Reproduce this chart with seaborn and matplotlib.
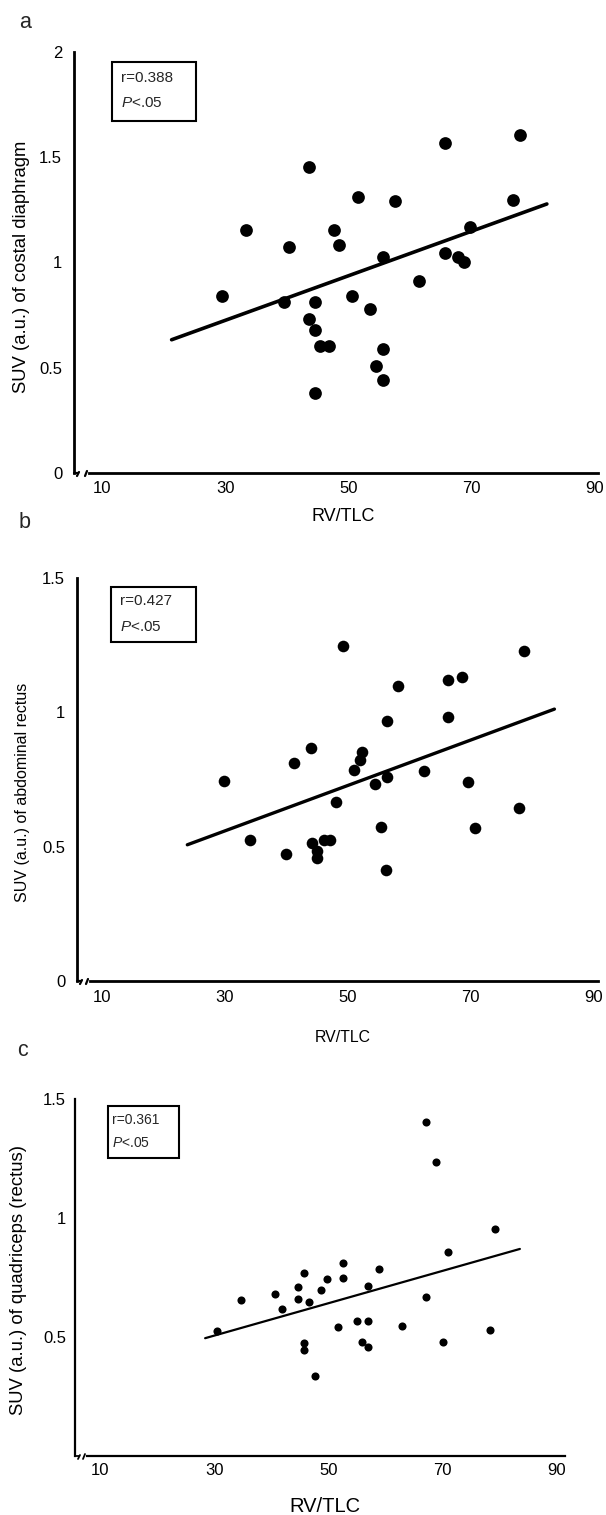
import numpy as np
import pandas as pd
import matplotlib
matplotlib.use("Agg")
import matplotlib.pyplot as plt
import matplotlib.transforms as mtransforms
from matplotlib.patches import Rectangle
from matplotlib.lines import Line2D
import seaborn as sns

# ---------------- data ----------------
a_x = [29.5, 33.4, 40.4, 39.6, 43.6, 43.6, 44.5, 44.5, 45.4, 46.8, 44.5, 47.6, 48.4, 50.6, 51.6,
       53.5, 54.5, 55.6, 55.6, 55.6, 57.5, 61.5, 65.6, 65.6, 67.7, 68.8, 69.7, 76.7, 77.8]
a_y = [0.843, 1.154, 1.073, 0.811, 1.456, 0.731, 0.811, 0.680, 0.601, 0.601, 0.378, 1.154, 1.083, 0.843, 1.313,
       0.781, 0.510, 1.025, 0.590, 0.440, 1.293, 0.911, 1.568, 1.043, 1.025, 1.002, 1.167, 1.299, 1.606]
a_fit_x = [21.3, 82.2]
a_fit_y = [0.633, 1.278]

b_x = [29.8, 34.1, 39.9, 41.2, 44.1, 44.2, 45.1, 45.1, 46.1, 47.2, 48.1, 49.2, 51.1, 52.1, 52.3,
       54.4, 55.4, 56.3, 56.4, 56.5, 58.2, 62.5, 66.4, 66.4, 68.6, 69.7, 70.8, 77.9, 78.7]
b_y = [0.743, 0.526, 0.473, 0.811, 0.866, 0.514, 0.485, 0.458, 0.524, 0.524, 0.666, 1.248, 0.786, 0.823, 0.854,
       0.734, 0.575, 0.415, 0.968, 0.761, 1.099, 0.783, 1.120, 0.981, 1.132, 0.739, 0.569, 0.644, 1.230]
b_fit_x = [23.9, 83.7]
b_fit_y = [0.507, 1.012]

c_x = [30.5, 34.7, 40.7, 41.8, 44.6, 44.6, 45.7, 45.7, 45.7, 46.6, 47.6, 48.7, 49.7, 51.7, 52.6,
       52.6, 54.9, 55.9, 56.9, 57.0, 57.0, 58.9, 62.9, 67.0, 67.0, 68.9, 70.0, 71.0, 78.2, 79.2]
c_y = [0.527, 0.655, 0.681, 0.619, 0.708, 0.658, 0.767, 0.476, 0.445, 0.649, 0.338, 0.696, 0.742, 0.540, 0.813,
       0.750, 0.568, 0.478, 0.714, 0.568, 0.459, 0.784, 0.548, 1.402, 0.667, 1.234, 0.478, 0.859, 0.531, 0.954]
c_fit_x = [28.4, 83.5]
c_fit_y = [0.495, 0.870]

x_ticks = [10, 30, 50, 70, 90]
x_ticklabels = ["10", "30", "50", "70", "90"]
a_yticks = [0, 0.5, 1, 1.5, 2]
a_yticklabels = ["0", "0.5", "1", "1.5", "2"]
b_yticks = [0, 0.5, 1, 1.5]
b_yticklabels = ["0", "0.5", "1", "1.5"]
c_yticks = [0.5, 1, 1.5]
c_yticklabels = ["0.5", "1", "1.5"]

ylabels = ["SUV (a.u.) of costal diaphragm", "SUV (a.u.) of abdominal rectus", "SUV (a.u.) of quadriceps (rectus)"]
xlabel = "RV/TLC"
stats_r = ["r=0.388", "r=0.427", "r=0.361"]
stats_p = "$\\it{P}$<.05"
panel_letters = ["a", "b", "c"]

# ---------------- style ----------------
sns.set_theme(style="white")
plt.rcParams["font.family"] = ["Liberation Sans", "DejaVu Sans"]
plt.rcParams["mathtext.fontset"] = "custom"
plt.rcParams["mathtext.it"] = "Liberation Sans:italic"
plt.rcParams["mathtext.rm"] = "Liberation Sans"

W, H = 606, 1515
fig = plt.figure(figsize=(W / 100, H / 100), dpi=100)

def fx(px):
    return px / W

def fy(py):
    return 1 - py / H

panels = [
    dict(x=a_x, y=a_y, fx_=a_fit_x, fy_=a_fit_y, yt=a_yticks, ytl=a_yticklabels,
         left=74, right=598, top=52, bottom=473, xlim=(5.46, 90.5), ylim=(0, 2.0),
         ms=84, lw=2.6, sw=2.0, ypad=8.5, xpad=5.5, ylab_fs=13.3, ylab_pos=(22, 267),
         xlab_fs=13, xlab_pos=(343, 517), box=(112, 62, 196, 121), txt_x=121, txt_y=(78, 103), txt_fs=11,
         letter_pos=(25, 22), brk=15),
    dict(x=b_x, y=b_y, fx_=b_fit_x, fy_=b_fit_y, yt=b_yticks, ytl=b_yticklabels,
         left=77, right=598, top=578, bottom=981, xlim=(5.93, 90.8), ylim=(0, 1.5),
         ms=70, lw=2.4, sw=2.0, ypad=8.5, xpad=6.5, ylab_fs=11.5, ylab_pos=(23, 792),
         xlab_fs=11.4, xlab_pos=(343, 1038), box=(111, 587, 196, 642), txt_x=120, txt_y=(601, 627), txt_fs=11,
         letter_pos=(25, 523), brk=13),
    dict(x=c_x, y=c_y, fx_=c_fit_x, fy_=c_fit_y, yt=c_yticks, ytl=c_yticklabels,
         left=75, right=565, top=1099, bottom=1456, xlim=(5.62, 91.4), ylim=(0, 1.5),
         ms=34, lw=1.6, sw=1.6, ypad=6.5, xpad=5.0, ylab_fs=13.3, ylab_pos=(19, 1280),
         xlab_fs=14.5, xlab_pos=(325, 1506), box=(108, 1106, 179, 1158), txt_x=112, txt_y=(1120, 1143), txt_fs=10,
         letter_pos=(23, 1050), brk=12),
]

for i, p in enumerate(panels):
    ax = fig.add_axes([fx(p["left"]), fy(p["bottom"]), fx(p["right"] - p["left"]),
                       (p["bottom"] - p["top"]) / H])
    df = pd.DataFrame({"x": p["x"], "y": p["y"]})
    sns.scatterplot(data=df, x="x", y="y", ax=ax, color="black", s=p["ms"],
                    edgecolor="black", linewidth=0, zorder=3, clip_on=False)
    fit = pd.DataFrame({"x": p["fx_"], "y": p["fy_"]})
    sns.lineplot(data=fit, x="x", y="y", ax=ax, color="black", linewidth=p["lw"], zorder=2)

    ax.set_xlim(*p["xlim"])
    ax.set_ylim(*p["ylim"])
    ax.set_xticks(x_ticks)
    ax.set_xticklabels(x_ticklabels)
    ax.set_yticks(p["yt"])
    ax.set_yticklabels(p["ytl"])
    ax.tick_params(axis="both", length=0, labelsize=12, colors="black")
    ax.tick_params(axis="x", pad=p["xpad"])
    ax.tick_params(axis="y", pad=p["ypad"])

    for s in ["top", "right"]:
        ax.spines[s].set_visible(False)
    for s in ["left", "bottom"]:
        ax.spines[s].set_color("black")
        ax.spines[s].set_linewidth(p["sw"])
    scale = (p["right"] - p["left"]) / (p["xlim"][1] - p["xlim"][0])
    ax.spines["bottom"].set_bounds(p["xlim"][0] + p["brk"] / scale, p["xlim"][1])

    # axis break marks near the origin (pixel offsets from the axes corner)
    corner = mtransforms.Affine2D().translate(p["left"], H - p["bottom"])
    segs = [((0, 0), (4, 0)), ((3, -3), (5, 1)), ((p["brk"] - 4, -3), (p["brk"] - 2, 2))]
    for (x0, y0), (x1, y1) in segs:
        fig.add_artist(Line2D([x0, x1], [y0, y1], color="black", linewidth=p["sw"] * 0.8,
                              clip_on=False, transform=corner))

    # labels
    ax.set_xlabel(xlabel, fontsize=p["xlab_fs"], color="black", va="center")
    ax.xaxis.set_label_coords(fx(p["xlab_pos"][0]), fy(p["xlab_pos"][1]), transform=fig.transFigure)
    ax.set_ylabel(ylabels[i], fontsize=p["ylab_fs"], color="black", va="center", ha="center")
    ax.yaxis.label.set_rotation_mode("default")
    ax.yaxis.set_label_coords(fx(p["ylab_pos"][0]), fy(p["ylab_pos"][1]), transform=fig.transFigure)

    # stats box
    x0, y0, x1, y1 = p["box"]
    fig.add_artist(Rectangle((fx(x0), fy(y1)), fx(x1 - x0), (y1 - y0) / H, transform=fig.transFigure,
                             facecolor="none", edgecolor="black", linewidth=1.5))
    fig.text(fx(p["txt_x"]), fy(p["txt_y"][0]), stats_r[i], fontsize=p["txt_fs"], va="center", ha="left")
    fig.text(fx(p["txt_x"]), fy(p["txt_y"][1]), stats_p, fontsize=p["txt_fs"], va="center", ha="left")

    fig.text(fx(p["letter_pos"][0]), fy(p["letter_pos"][1]), panel_letters[i], fontsize=15.5,
             va="center", ha="center")

fig.savefig("out.png", dpi=100, facecolor="white")
